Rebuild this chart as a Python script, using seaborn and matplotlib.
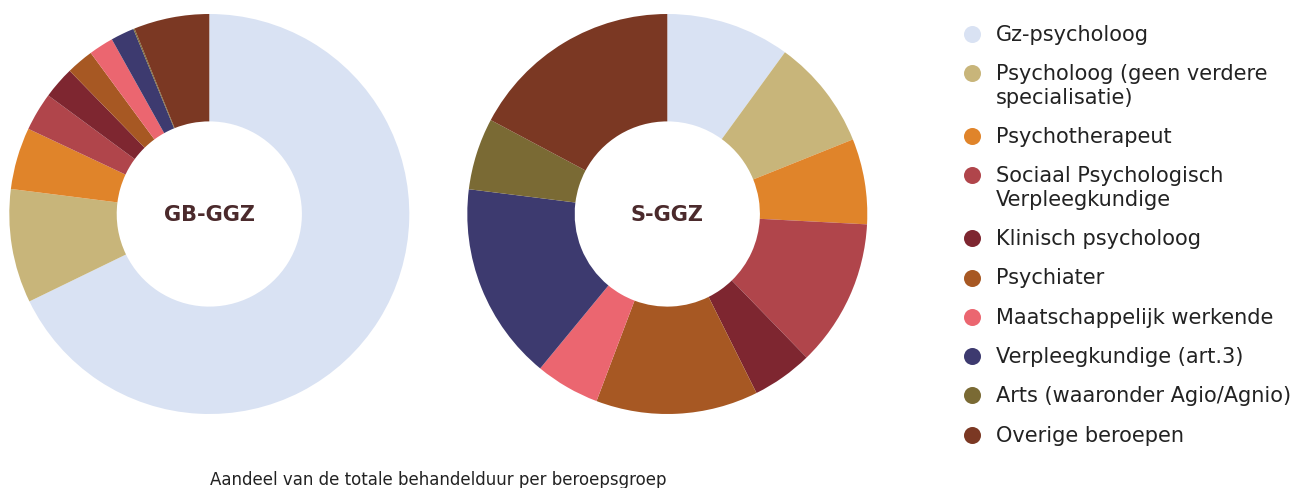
import matplotlib
matplotlib.use("Agg")
import matplotlib.pyplot as plt
import seaborn as sns

# Professional groups (legend order = slice order, clockwise from 12 o'clock)
beroepen = [
    "Gz-psycholoog",
    "Psycholoog (geen verdere\nspecialisatie)",
    "Psychotherapeut",
    "Sociaal Psychologisch\nVerpleegkundige",
    "Klinisch psycholoog",
    "Psychiater",
    "Maatschappelijk werkende",
    "Verpleegkundige (art.3)",
    "Arts (waaronder Agio/Agnio)",
    "Overige beroepen",
]

# Share of total treatment time (%) per group
gb_ggz = [67.8, 9.2, 5.0, 3.1, 2.6, 2.2, 2.0, 1.9, 0.1, 6.1]
s_ggz = [10.0, 8.9, 6.9, 11.9, 4.9, 13.1, 5.2, 16.0, 5.8, 17.2]

kleuren = [
    "#d9e2f3", "#c8b57a", "#e0842a", "#b0454b", "#7e2630",
    "#a75823", "#eb6670", "#3d3a6f", "#7a6a34", "#7b3823",
]

donut_titels = ["GB-GGZ", "S-GGZ"]
onderschrift = "Aandeel van de totale behandelduur per beroepsgroep"

sns.set_theme(style="white")
plt.rcParams["font.family"] = ["DejaVu Sans"]
palette = sns.color_palette(kleuren)

W, H = 1301, 489
fig = plt.figure(figsize=(W / 100, H / 100), dpi=100)
fig.patch.set_facecolor("white")

R = 200
centres = [(209.3, 215), (667.3, 215)]
for (cx, cy), waarden, titel in zip(centres, [gb_ggz, s_ggz], donut_titels):
    ax = fig.add_axes([(cx - R) / W, (H - cy - R) / H, 2 * R / W, 2 * R / H])
    ax.pie(waarden, colors=palette, startangle=90, counterclock=False,
           radius=1.0, wedgeprops=dict(width=0.537, linewidth=0))
    ax.set_xlim(-1, 1)
    ax.set_ylim(-1, 1)
    ax.set_aspect("equal")
    ax.axis("off")
    ax.text(0, 0, titel, ha="center", va="center", fontsize=15,
            fontweight="bold", color="#4b2a2c")

# Legend drawn in pixel space on the right
lg = fig.add_axes([0, 0, 1, 1])
lg.set_xlim(0, W)
lg.set_ylim(H, 0)
lg.axis("off")
lg.patch.set_alpha(0)

y = 35.0
stap, regel = 39.3, 23.5
for naam, kleur in zip(beroepen, palette):
    lg.scatter([972], [y], s=150, color=kleur, linewidths=0)
    regels = naam.split("\n")
    for i, tekst in enumerate(regels):
        lg.text(996, y + i * regel, tekst, ha="left", va="center",
                fontsize=15, color="#222222")
    y += stap + regel * (len(regels) - 1)

lg.text(438.5, 480, onderschrift, ha="center", va="center",
        fontsize=12, color="#222222")

fig.savefig("out.png", dpi=100, facecolor="white")
